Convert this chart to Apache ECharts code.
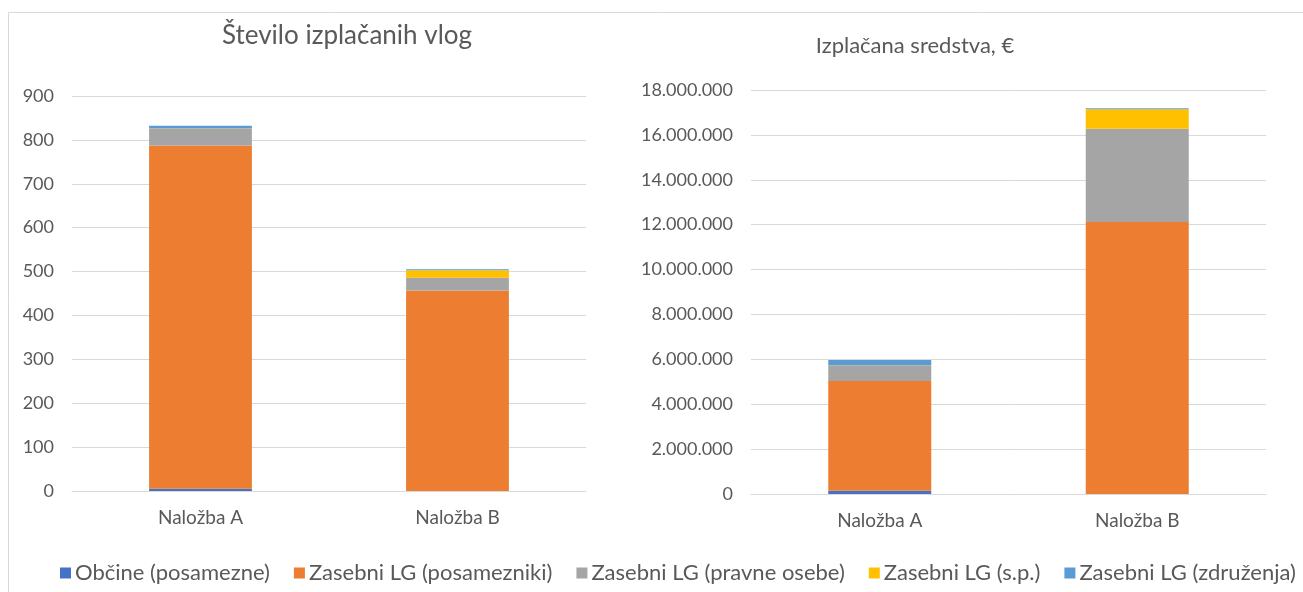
<!DOCTYPE html>
<html>
<head>
<meta charset="utf-8">
<script src="https://cdn.jsdelivr.net/npm/echarts@6/dist/echarts.min.js"></script>
<style>
  html, body { margin: 0; padding: 0; background: #fff; }
  #chart { width: 1303px; height: 592px; }
</style>
</head>
<body>
<div id="chart"></div>
<script>
// kategorije in serije
var categories = ['Naložba A', 'Naložba B']
var seriesNames = ['Občine (posamezne)', 'Zasebni LG (posamezniki)', 'Zasebni LG (pravne osebe)', 'Zasebni LG (s.p.)', 'Zasebni LG (združenja)']
var colors = ['#4472C4', '#ED7D31', '#A5A5A5', '#FFC000', '#5B9BD5']

// število izplačanih vlog
var vlogeObcine = [5, 0]
var vlogePosamezniki = [782, 457]
var vlogePravne = [38, 29]
var vlogeSp = [1, 17]
var vlogeZdruzenja = [6, 2]

// izplačana sredstva (EUR)
var sredstvaObcine = [150000, 0]
var sredstvaPosamezniki = [4890000, 12120000]
var sredstvaPravne = [660000, 4150000]
var sredstvaSp = [20000, 870000]
var sredstvaZdruzenja = [250000, 50000]

var leftTicks = { min: 0, max: 900, interval: 100 }
var rightTicks = { min: 0, max: 18000000, interval: 2000000 }

var vlogeData = [vlogeObcine, vlogePosamezniki, vlogePravne, vlogeSp, vlogeZdruzenja]
var sredstvaData = [sredstvaObcine, sredstvaPosamezniki, sredstvaPravne, sredstvaSp, sredstvaZdruzenja]

var font = 'Lato, "Noto Sans", sans-serif'
var textColor = '#595959'
var gridColor = '#d9d9d9'

function dots (v) {
  return String(v).replace(/\B(?=(\d{3})+(?!\d))/g, '.')
}

function xAxis (idx) {
  return {
    type: 'category',
    gridIndex: idx,
    data: categories,
    axisTick: { show: false },
    axisLine: { lineStyle: { color: gridColor } },
    axisLabel: { color: textColor, fontSize: 19, fontFamily: font, margin: 17 }
  }
}

function yAxis (idx, ticks, fmt) {
  return {
    type: 'value',
    gridIndex: idx,
    min: ticks.min,
    max: ticks.max,
    interval: ticks.interval,
    axisLine: { show: false },
    axisTick: { show: false },
    splitLine: { lineStyle: { color: gridColor } },
    axisLabel: { color: textColor, fontSize: 18, fontFamily: font, margin: 18, formatter: fmt }
  }
}

var series = []
seriesNames.forEach(function (name, i) {
  series.push({
    name: name, type: 'bar', stack: 'vloge', xAxisIndex: 0, yAxisIndex: 0,
    barWidth: '40%', itemStyle: { color: colors[i] }, data: vlogeData[i]
  })
})
seriesNames.forEach(function (name, i) {
  series.push({
    name: name, type: 'bar', stack: 'sredstva', xAxisIndex: 1, yAxisIndex: 1,
    barWidth: '40%', itemStyle: { color: colors[i] }, data: sredstvaData[i]
  })
})

var option = {
  animation: false,
  textStyle: { fontFamily: font },
  title: [
    { text: 'Število izplačanih vlog', left: 342, top: 18, textAlign: 'center',
      textStyle: { color: textColor, fontSize: 26, fontWeight: 'normal', fontFamily: font } },
    { text: 'Izplačana sredstva, €', left: 910, top: 30, textAlign: 'center',
      textStyle: { color: textColor, fontSize: 22, fontWeight: 'normal', fontFamily: font } }
  ],
  legend: {
    data: seriesNames,
    left: 55,
    top: 557,
    width: 1400,
    itemWidth: 11,
    itemHeight: 11,
    itemGap: 24,
    icon: 'rect',
    textStyle: { color: textColor, fontSize: 22, fontFamily: font, padding: [0, 0, 0, -1] }
  },
  grid: [
    { left: 72, right: 717, top: 96, bottom: 101 },
    { left: 751, right: 37, top: 90, bottom: 98 }
  ],
  xAxis: [xAxis(0), xAxis(1)],
  yAxis: [yAxis(0, leftTicks), yAxis(1, rightTicks, dots)],
  graphic: [{
    type: 'rect',
    shape: { x: 8.5, y: 12.5, width: 1300, height: 585 },
    style: { fill: 'none', stroke: '#d9d9d9', lineWidth: 1 },
    silent: true
  }],
  series: series
}

var chart = echarts.init(document.getElementById('chart'))
chart.setOption(option)
</script>
</body>
</html>
